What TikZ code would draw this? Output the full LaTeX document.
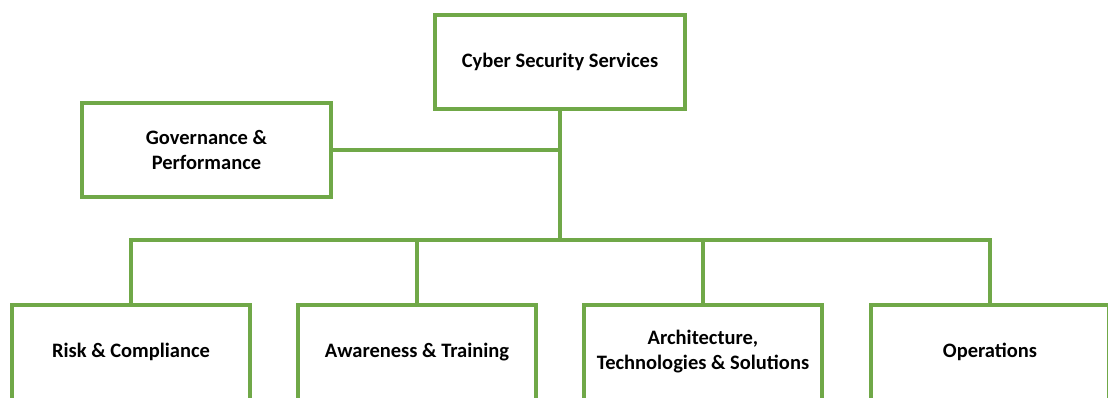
\documentclass[tikz,border=0pt]{standalone}
\usepackage{fontspec}
\setmainfont{Carlito}
\definecolor{boxgreen}{RGB}{112,168,72}
\begin{document}
\begin{tikzpicture}[x=1pt,y=-1pt,
  boxtext/.style={rectangle,inner sep=0pt,outer sep=0pt,
    align=center,font=\fontsize{20.5}{25}\selectfont\bfseries},
  box/.style={boxtext,draw=boxgreen,line width=4pt,fill=white},
  link/.style={draw=boxgreen,line width=4pt}]
\useasboundingbox (0,0) rectangle (1108,398);
\clip (0,0) rectangle (1108,398);
\node[box,minimum width=250pt,minimum height=94pt] (css) at (560,62) {Cyber Security Services};
\node[box,minimum width=249pt,minimum height=94pt] (gov) at (206.5,150) {Governance \&\\Performance};
\node[boxtext,minimum width=238pt,minimum height=94pt] (risk) at (131,352) {Risk \& Compliance};
\node[boxtext,minimum width=238pt,minimum height=94pt] (aware) at (417,352) {Awareness \& Training};
\node[boxtext,minimum width=238pt,minimum height=94pt] (arch) at (703,352) {Architecture,\\Technologies \& Solutions};
\node[boxtext,minimum width=238pt,minimum height=94pt] (ops) at (990,352) {Operations};
\foreach \n in {risk,aware,arch,ops}
  \draw[link] ([yshift=-20pt]\n.south west) -- (\n.north west) -- (\n.north east) -- ([yshift=-20pt]\n.south east);
\coordinate (gj) at (560,150);
\coordinate (bus) at (560,240);
\draw[link] (css.south) -- (bus);
\draw[link] (gov.east) -- (gj);
\draw[link,line cap=rect] (risk.north |- bus) -- (ops.north |- bus);
\draw[link] (risk.north |- bus) -- (risk.north);
\draw[link] (aware.north |- bus) -- (aware.north);
\draw[link] (arch.north |- bus) -- (arch.north);
\draw[link] (ops.north |- bus) -- (ops.north);
\end{tikzpicture}
\end{document}
